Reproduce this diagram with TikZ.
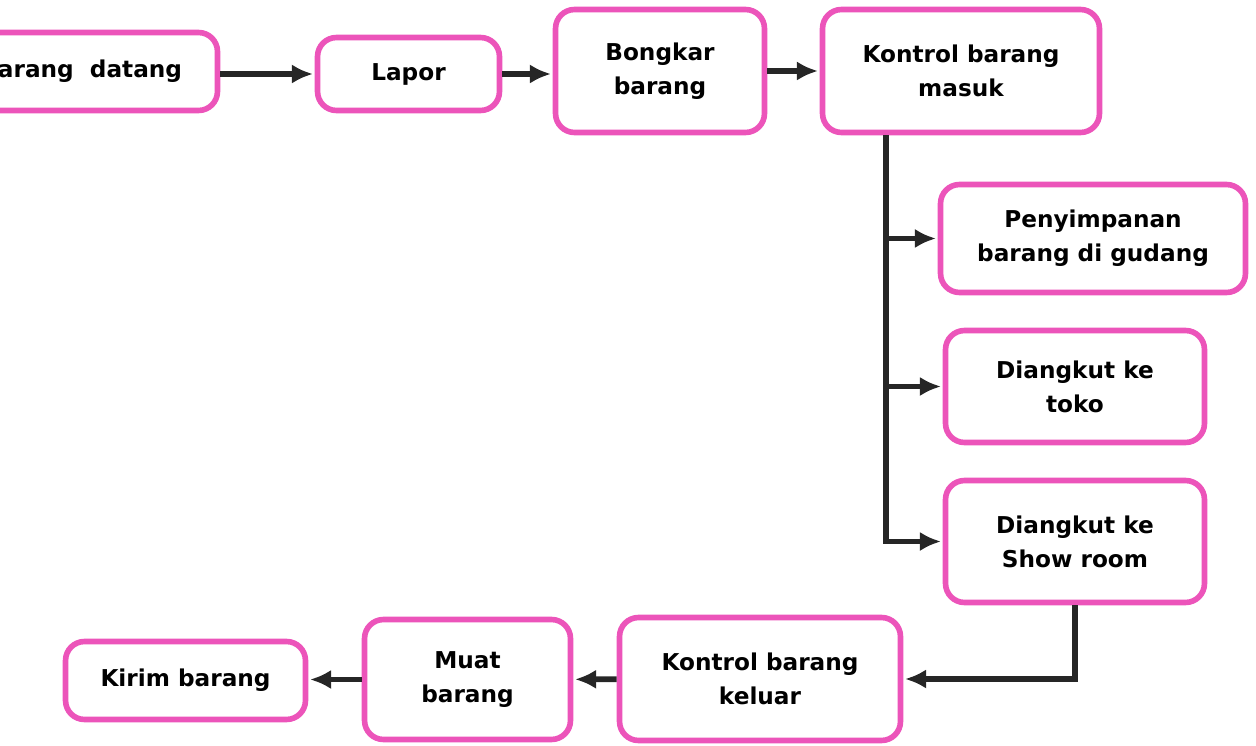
\documentclass[tikz,border=0pt]{standalone}
\usepackage{fontspec}
\setmainfont{DejaVu Sans}
\usepackage{tikz}
\usetikzlibrary{arrows.meta}
\definecolor{boxpink}{RGB}{236,84,186}
\tikzset{
  box/.style={draw=boxpink, line width=3.2pt, rounded corners=0.38cm, fill=white,
    align=center, inner sep=0pt, font=\bfseries\fontsize{13.2}{19.5}\selectfont},
  flow/.style={draw=black!85, line width=3.2pt, -{Latex[length=12pt,width=11pt]}, shorten >=1pt},
}

\begin{document}
\begin{tikzpicture}[x=0.02cm, y=-0.02cm]
  \useasboundingbox (0, 0) rectangle (1256, 746);
  \clip (0, 0) rectangle (1256, 746);

  % top row
  \node[box, minimum width=5.1cm, minimum height=1.56cm] (datang) at (90, 71.5) {arang~~datang};
  \node[box, minimum width=3.64cm, minimum height=1.46cm] (lapor) at (408.5, 74) {Lapor};
  \node[box, minimum width=4.18cm, minimum height=2.46cm] (bongkar) at (660, 71) {Bongkar\\barang};
  \node[box, minimum width=5.54cm, minimum height=2.46cm] (kmasuk) at (961, 71) {Kontrol barang\\masuk};

  % right column
  \node[box, minimum width=6.1cm, minimum height=2.16cm] (gudang) at (1093, 238.5) {Penyimpanan\\barang di gudang};
  \node[box, minimum width=5.18cm, minimum height=2.24cm] (toko) at (1075, 386.5) {Diangkut ke\\toko};
  \node[box, minimum width=5.18cm, minimum height=2.44cm] (showroom) at (1075, 541.5) {Diangkut ke\\Show room};

  % bottom row
  \node[box, minimum width=5.62cm, minimum height=2.46cm] (keluar) at (760, 679) {Kontrol barang\\keluar};
  \node[box, minimum width=4.12cm, minimum height=2.4cm] (muat) at (467.5, 679.5) {Muat\\barang};
  \node[box, minimum width=4.8cm, minimum height=1.56cm] (kirim) at (185.5, 680.5) {Kirim barang};

  \draw[flow] (datang.east |- lapor) -- (lapor);
  \draw[flow] (lapor.east) -- (lapor.east -| bongkar.west);
  \draw[flow] (bongkar) -- (kmasuk);

  \coordinate (split) at (886, 550);
  \foreach \n in {gudang, toko, showroom} {
    \draw[flow] (kmasuk.south -| split) |- (\n);
  }

  \draw[flow] (showroom.south) |- (keluar);
  \draw[flow] (keluar) -- (muat);
  \draw[flow] (muat.west) -- (muat.west -| kirim.east);
\end{tikzpicture}
\end{document}
